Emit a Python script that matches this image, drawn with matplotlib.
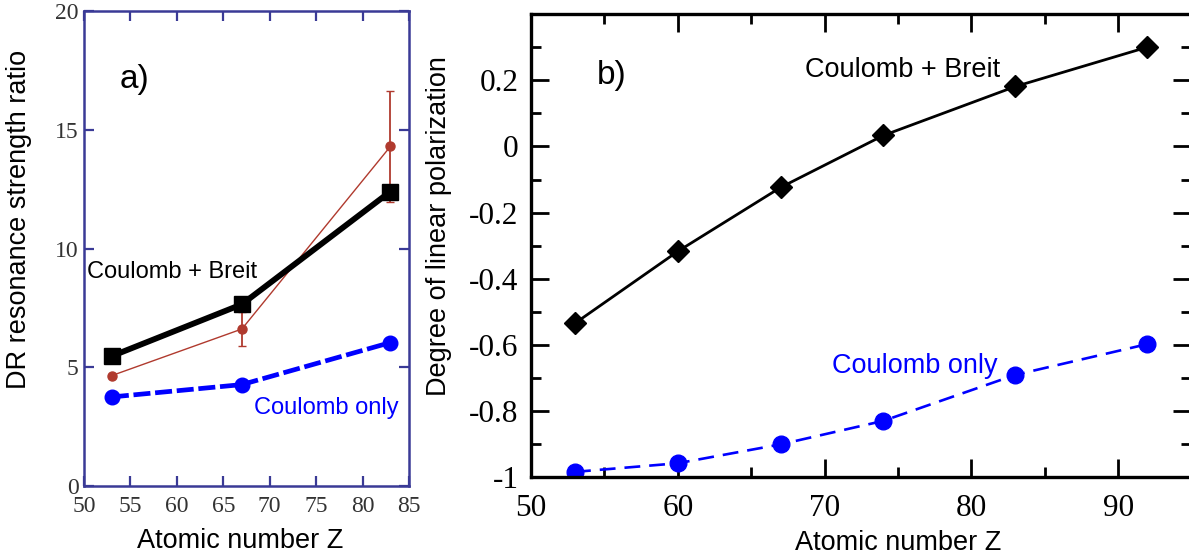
import numpy as np
import matplotlib
matplotlib.use('Agg')
import matplotlib.pyplot as plt
from matplotlib.ticker import MultipleLocator

# panel a) - DR resonance strength ratio
z_a = [53, 67, 83]
ratio_breit = [5.47, 7.65, 12.4]
ratio_coulomb = [3.75, 4.27, 6.04]
ratio_exp = [4.65, 6.61, 14.3]
ratio_exp_err = [0.0, 0.7, 2.35]

# panel b) - degree of linear polarization
z_b = [53, 60, 67, 74, 83, 92]
pol_breit = [-0.534, -0.317, -0.124, 0.033, 0.181, 0.300]
pol_coulomb = [-0.983, -0.957, -0.900, -0.829, -0.690, -0.597]

sans = 'Liberation Sans'
serif = 'Liberation Serif'
navy = '#3a3a96'
blue = '#0000ff'
red = '#b03a2e'

fig = plt.figure(figsize=(11.89, 5.58), dpi=100)

# ---- panel a
ax1 = fig.add_axes([0.07065, 0.12903, 0.27334, 0.85125])
ax1.plot(z_a, ratio_coulomb, color=blue, lw=3.4, dashes=(3.6, 1.0),
         marker='o', ms=10.5, zorder=2)
ax1.errorbar(z_a, ratio_exp, yerr=ratio_exp_err, color=red, lw=1.0,
             marker='o', ms=6.5, capsize=3, elinewidth=1.3, zorder=3)
ax1.plot(z_a, ratio_breit, color='black', lw=4.2, marker='s', ms=11.5, zorder=4)

ax1.set_xlim(50, 85)
ax1.set_ylim(0, 20)
ax1.xaxis.set_major_locator(MultipleLocator(5))
ax1.yaxis.set_major_locator(MultipleLocator(5))
ax1.tick_params(direction='in', top=True, right=True, length=7, width=1.6,
                color=navy, labelcolor='#333333', labelsize=17)
ax1.tick_params(axis='x', pad=7)
ax1.tick_params(axis='y', pad=4)
for lab in ax1.get_xticklabels() + ax1.get_yticklabels():
    lab.set_family(serif)
for sp in ax1.spines.values():
    sp.set_color(navy)
    sp.set_linewidth(1.8)

ax1.set_xlabel('Atomic number Z', family=sans, fontsize=19.5)
ax1.xaxis.set_label_coords(0.48, -0.088)
ax1.set_ylabel('DR resonance strength ratio', family=sans, fontsize=19.5)
ax1.yaxis.set_label_coords(-0.16, 0.562)

ax1.text(53.8, 17.1, 'a)', family=sans, fontsize=24, va='center')
ax1.text(50.3, 9.0, 'Coulomb + Breit', family=sans, fontsize=17, va='center')
ax1.text(68.3, 3.3, 'Coulomb only', family=sans, fontsize=17, va='center',
         color=blue)

# ---- panel b
ax2 = fig.add_axes([0.44659, 0.14427, 0.5555, 0.83065])
ax2.plot(z_b, pol_breit, color='black', lw=2.0, marker='D', ms=11)
ax2.plot(z_b, pol_coulomb, color=blue, lw=1.9, dashes=(6.0, 3.4),
         marker='o', ms=12)

ax2.set_xlim(50, 95)
ax2.set_ylim(-1, 0.4)
ax2.xaxis.set_major_locator(MultipleLocator(10))
ax2.xaxis.set_minor_locator(MultipleLocator(5))
ax2.yaxis.set_major_locator(MultipleLocator(0.2))
ax2.yaxis.set_minor_locator(MultipleLocator(0.1))
ax2.set_xticks([50, 60, 70, 80, 90])
ax2.set_yticks([-1, -0.8, -0.6, -0.4, -0.2, 0, 0.2])
ax2.set_yticklabels(['-1', '-0.8', '-0.6', '-0.4', '-0.2', '0', '0.2'])
ax2.tick_params(which='both', direction='in', top=True, right=True,
                width=2, color='black', labelsize=22.5)
ax2.tick_params(which='major', length=13)
ax2.tick_params(which='minor', length=7)
ax2.tick_params(axis='x', pad=12)
ax2.tick_params(axis='y', pad=9)
for lab in ax2.get_xticklabels() + ax2.get_yticklabels():
    lab.set_family(serif)
for sp in ax2.spines.values():
    sp.set_linewidth(2.4)

ax2.set_xlabel('Atomic number Z', family=sans, fontsize=19.5)
ax2.xaxis.set_label_coords(0.556, -0.113)
ax2.set_ylabel('Degree of linear polarization', family=sans, fontsize=19.5)
ax2.yaxis.set_label_coords(-0.1196, 0.5426)

ax2.text(54.5, 0.215, 'b)', family=sans, fontsize=24, va='center')
ax2.text(68.7, 0.23, 'Coulomb + Breit', family=sans, fontsize=19.5,
         va='center')
ax2.text(70.5, -0.664, 'Coulomb only', family=sans, fontsize=19.5,
         va='center', color=blue)

fig.savefig('out.png', dpi=100)
